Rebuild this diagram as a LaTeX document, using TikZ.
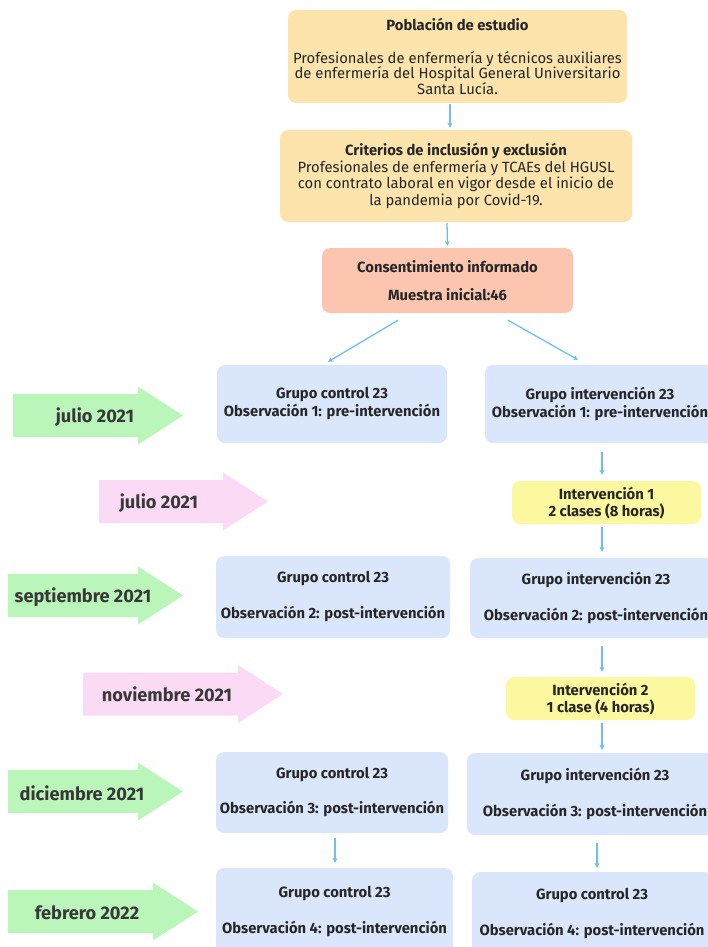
\documentclass[tikz,border=0pt]{standalone}
\usepackage{fontspec}
\setmainfont{Fira Sans}
\usepackage{xcolor}
\usetikzlibrary{arrows.meta, positioning}

\definecolor{boxorange}{RGB}{252,228,172}
\definecolor{boxsalmon}{RGB}{251,197,176}
\definecolor{boxblue}{RGB}{218,230,252}
\definecolor{boxyellow}{RGB}{252,248,160}
\definecolor{monthgreen}{RGB}{186,245,186}
\definecolor{monthpink}{RGB}{250,218,244}
\definecolor{linkblue}{RGB}{110,192,228}

\begin{document}
\begin{tikzpicture}[x=1pt,y=-1pt,>={Stealth[length=5pt,width=5pt]},
  tbox/.style={rounded corners=8pt, align=center, inner sep=0pt, text=black!85,
               font=\fontsize{14.8}{15.5}\selectfont},
  grp/.style={tbox, fill=boxblue, font=\bfseries\fontsize{14.8}{18}\selectfont},
  interv/.style={tbox, fill=boxyellow, minimum width=189pt, minimum height=43pt,
                 font=\bfseries\fontsize{14.8}{17}\selectfont},
  link/.style={->, draw=linkblue, line width=1.3pt},
  month/.style={font=\bfseries\fontsize{18.2}{20}\selectfont, text=black!78}]
  \useasboundingbox (0,0) rectangle (708,947);

  % ---- top: study population ----
  \node[tbox, fill=boxorange, minimum width=339pt, minimum height=93pt] (pob) at (457.5,56.5)
    {\textbf{Población de estudio}\\[17pt]
     Profesionales de enfermería y técnicos auxiliares\\
     de enfermería del Hospital General Universitario\\
     Santa Lucía.};
  \node[tbox, fill=boxorange, minimum width=352pt, minimum height=92pt,
        font=\fontsize{14.8}{16.5}\selectfont] (crit) at (456,176)
    {\textbf{Criterios de inclusión y exclusión}\\
     Profesionales de enfermería y TCAEs del HGUSL\\
     con contrato laboral en vigor desde el inicio de\\
     la pandemia por Covid-19.};
  \node[tbox, fill=boxsalmon, minimum width=251pt, minimum height=65pt,
        font=\bfseries\fontsize{14.8}{17}\selectfont] (cons) at (447.5,280.5)
    {Consentimiento informado\\[11pt] Muestra inicial:46};

  % ---- groups and interventions ----
  \node[grp, minimum width=230pt, minimum height=78pt] (gc1) at (332,404)
    {Grupo control 23\\ Observación 1: pre-intervención};
  \node[grp, minimum width=230pt, minimum height=78pt] (gi1) at (600,404)
    {Grupo intervención 23\\ Observación 1: pre-intervención};
  \node[interv] (int1) at (606.5,502.5) {Intervención 1\\ 2 clases (8 horas)};
  \node[grp, minimum width=234pt, minimum height=82pt] (gc2) at (333,597)
    {Grupo control 23\\[18pt] Observación 2: post-intervención};
  \node[grp, minimum width=252pt, minimum height=80pt] (gi2) at (596,598)
    {Grupo intervención 23\\[18pt] Observación 2: post-intervención};
  \node[interv] (int2) at (600.5,698.5) {Intervención 2\\ 1 clase (4 horas)};
  \node[grp, minimum width=232pt, minimum height=81pt] (gc3) at (332,792.5)
    {Grupo control 23\\[17pt] Observación 3: post-intervención};
  \node[grp, minimum width=256pt, minimum height=82pt] (gi3) at (595,794)
    {Grupo intervención 23\\[18pt] Observación 3: post-intervención};
  \node[grp, minimum width=237pt, minimum height=88pt] (gc4) at (334.5,912)
    {Grupo control 23\\[18pt] Observación 4: post-intervención};
  \node[grp, minimum width=240pt, minimum height=84pt] (gi4) at (592,914)
    {Grupo control 23\\[18pt] Observación 4: post-intervención};

  % ---- connectors ----
  \draw[link] ([xshift=-7.5pt,yshift=-1pt]pob.south) -- ([xshift=-6pt,yshift=2pt]crit.north);
  \draw[link] ([xshift=-9pt,yshift=-1pt]crit.south) -- ([yshift=2pt]cons.north);
  \draw[link] ([xshift=-49.5pt,yshift=-7pt]cons.south) -- ([xshift=-4pt,yshift=3pt]gc1.north);
  \draw[link] ([xshift=60.5pt,yshift=-7pt]cons.south) -- ([xshift=-22pt,yshift=5pt]gi1.north);
  \draw[link] ([xshift=2pt,yshift=-9pt]gi1.south) -- ([xshift=-4.5pt,yshift=6pt]int1.north);
  \draw[link] ([xshift=-4.5pt,yshift=-3pt]int1.south) -- ([xshift=6pt,yshift=6pt]gi2.north);
  \draw[link] ([xshift=6pt,yshift=-8pt]gi2.south) -- ([xshift=1.5pt,yshift=5pt]int2.north);
  \draw[link] ([xshift=1.5pt,yshift=-3pt]int2.south) -- ([xshift=7pt,yshift=3pt]gi3.north);
  \draw[link] ([xshift=3pt,yshift=-5pt]gc3.south) -- ([xshift=0.5pt,yshift=5pt]gc4.north);
  \draw[link] ([xshift=2pt,yshift=-8pt]gi3.south) -- ([xshift=5pt,yshift=4pt]gi4.north);

  % ---- timeline arrows ----
  \foreach \nm/\xa/\xb/\xc/\yc/\tx/\ty/\col/\lab in {
      jula/13/138/183/415.5/95/417/monthgreen/julio 2021,
      julb/99/223/268/501.5/159/503/monthpink/julio 2021,
      sept/8/138/183/595.5/83/597/monthgreen/septiembre 2021,
      novi/83/238/283/694/167/694/monthpink/noviembre 2021,
      dici/8/138/183/791.5/82/793/monthgreen/diciembre 2021,
      febr/8/153/198/911.5/87/913/monthgreen/febrero 2022} {
    \fill[\col] (\xa,\yc-21.5) -- (\xb,\yc-21.5) -- (\xb,\yc-29) -- (\xc,\yc)
      -- (\xb,\yc+29) -- (\xb,\yc+21.5) -- (\xa,\yc+21.5) -- cycle;
    \node[month] (\nm) at (\tx,\ty) {\lab};
  }
\end{tikzpicture}
\end{document}
